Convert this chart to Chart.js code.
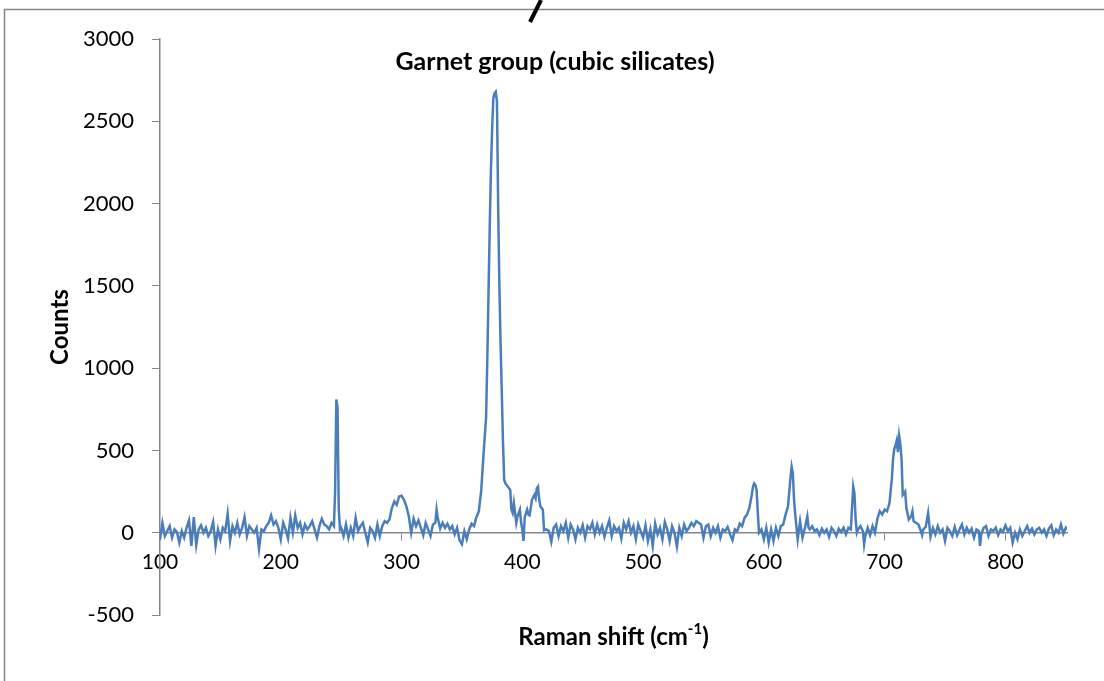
<!DOCTYPE html>
<html>
<head>
<meta charset="utf-8">
<title>Garnet group (cubic silicates)</title>
<script src="https://cdn.jsdelivr.net/npm/chart.js@4.4.1/dist/chart.umd.min.js"></script>
<style>
    html, body { margin: 0; padding: 0; background: #ffffff; }
    #wrap { position: relative; width: 1104px; height: 681px; }
</style>
</head>
<body>
<div id="wrap"><canvas id="ramanChart"></canvas></div>
<script>
/* ==========================================
   Raman spectrum - garnet
   ========================================== */

// Raman shift (cm-1)
const ramanShift = [
    100, 102, 104, 106, 108, 110, 112, 114, 116, 118,
    120, 122, 124, 126, 128, 130, 132, 134, 136, 138,
    140, 142, 144, 146, 148, 150, 152, 154, 156, 158,
    160, 162, 164, 166, 168, 170, 172, 174, 176, 178,
    180, 182, 184, 186, 188, 190, 192, 194, 196, 198,
    200, 202, 204, 206, 208, 210, 212, 214, 216, 218,
    220, 222, 224, 226, 228, 230, 232, 234, 236, 238,
    240, 242, 244, 245, 246, 247, 248, 249, 250, 252,
    254, 256, 258, 260, 262, 264, 266, 268, 270, 272,
    274, 276, 278, 280, 282, 284, 286, 288, 290, 292,
    294, 296, 298, 300, 302, 304, 306, 308, 310, 312,
    314, 316, 318, 320, 322, 324, 326, 328, 329, 330,
    332, 334, 336, 338, 340, 342, 344, 346, 348, 350,
    352, 354, 356, 358, 360, 362, 364, 366, 368, 370,
    371, 372, 373, 374, 375, 376, 377, 378, 379, 380,
    381, 382, 383, 384, 385, 386, 388, 390, 391, 392,
    393, 394, 395, 396, 398, 399, 400, 401, 402, 404,
    405, 406, 408, 410, 411, 412, 413, 414, 415, 416,
    417, 418, 420, 422, 424, 426, 428, 430, 432, 434,
    436, 438, 440, 442, 444, 446, 448, 450, 452, 454,
    456, 458, 460, 462, 464, 466, 468, 470, 472, 474,
    476, 478, 480, 482, 484, 486, 488, 490, 492, 494,
    496, 498, 500, 502, 504, 506, 508, 510, 512, 514,
    516, 518, 520, 522, 524, 526, 528, 530, 532, 534,
    536, 538, 540, 542, 544, 546, 548, 550, 552, 554,
    556, 558, 560, 562, 564, 566, 568, 570, 572, 574,
    576, 578, 580, 582, 584, 586, 588, 590, 591, 592,
    593, 594, 595, 596, 598, 600, 602, 604, 606, 608,
    610, 612, 614, 616, 618, 620, 622, 623, 624, 625,
    626, 628, 630, 632, 634, 636, 637, 638, 640, 642,
    644, 646, 648, 650, 652, 654, 656, 658, 660, 662,
    664, 666, 668, 670, 672, 673, 674, 675, 676, 677,
    678, 680, 682, 683, 684, 686, 688, 690, 692, 694,
    696, 698, 700, 702, 704, 706, 707, 708, 709, 710,
    711, 712, 713, 714, 715, 716, 717, 718, 720, 722,
    723, 724, 726, 728, 730, 731, 732, 734, 736, 738,
    740, 742, 744, 746, 748, 750, 752, 754, 756, 758,
    760, 762, 764, 766, 768, 770, 772, 774, 776, 778,
    779, 780, 782, 784, 786, 788, 790, 792, 794, 796,
    798, 800, 802, 804, 806, 808, 810, 812, 814, 816,
    818, 820, 822, 824, 826, 828, 830, 832, 834, 836,
    838, 840, 842, 844, 846, 848, 850, 851
];

// Counts (same order as ramanShift)
const counts = [
    -40, 60, -20, 10, 40, -30, 20, 5, -60, 10,
    -30, 30, 75, -80, 95, -75, 20, 45, 0, 30,
    -20, 10, 65, -80, 20, -40, 30, 10, 115, -50,
    40, 0, 60, -10, 30, 95, -20, 40, 20, 0,
    30, -100, 20, 10, 40, 60, 105, 50, 70, 30,
    -40, 60, 20, -35, 90, 0, 105, 30, 60, -10,
    50, 20, 40, 70, 20, -30, 40, 85, 50, 40,
    20, 60, 40, 250, 810, 760, 150, 20, 30, -20,
    50, -30, 30, -20, 90, 10, 40, 60, 0, -60,
    30, 10, -30, 50, -20, 40, 70, 60, 80, 150,
    190, 170, 220, 225, 200, 160, 100, 0, 85, 40,
    75, 30, -15, 60, 20, -20, 50, 60, 140, 90,
    25, 60, 30, 55, 20, 40, -10, 30, -45, -70,
    10, -40, 20, 55, 40, 95, 130, 260, 490, 700,
    1050, 1450, 1850, 2200, 2450, 2640, 2670, 2680, 2620, 1980,
    1500, 1150, 850, 550, 320, 300, 280, 260, 140, 120,
    180, 120, 60, 100, 140, 60, 20, -50, 95, 140,
    110, 105, 200, 230, 210, 270, 280, 200, 160, 150,
    140, 15, 20, 10, -55, 30, 50, -20, 40, 10,
    60, -30, 50, 20, -40, 30, 0, 45, -30, 40,
    20, 60, -10, 50, 0, 40, -25, 30, 75, -20,
    40, 10, 30, -35, 60, 20, 70, 0, 40, -40,
    50, 10, -30, 45, -50, 20, -80, 55, -10, 30,
    -40, 65, 20, -50, 40, 0, -85, 30, -20, 50,
    10, 30, 60, 40, 70, 60, 50, -30, 40, 50,
    -20, 30, 0, 40, -30, 20, 10, 35, -10, -45,
    20, 10, 55, 40, 90, 110, 150, 230, 280, 300,
    290, 260, 120, 0, 20, -40, 30, -60, 20, -50,
    30, -20, 40, 50, 110, 160, 330, 400, 360, 200,
    110, -40, 70, -30, 30, 100, 30, 20, 40, 10,
    20, -15, 25, 0, 20, -25, 30, 10, -20, 25,
    5, 30, -10, 30, 20, 150, 280, 240, 80, 0,
    20, 40, 10, -70, -20, 30, -15, 40, 0, 85,
    130, 110, 140, 130, 180, 330, 450, 510, 530, 560,
    490, 590, 540, 450, 230, 240, 250, 150, 80, 100,
    130, 70, 60, 50, 10, -15, 20, 35, 120, -25,
    30, -10, 40, 0, 20, -50, 30, 10, -20, 35,
    -15, 20, 50, -10, 30, 0, 25, -30, 20, 10,
    -80, -10, 30, 40, -20, 20, 10, 30, -15, 20,
    5, 45, 10, 30, -60, 0, -40, 20, -20, 10,
    40, 0, 25, -10, 20, 30, 0, 20, -20, 25,
    45, -15, 20, 0, 50, -5, 30, 20
];

// Tick labels
const xTicks = [100, 200, 300, 400, 500, 600, 700, 800];
const yTicks = [-500, 0, 500, 1000, 1500, 2000, 2500, 3000];

const chartTitle = "Garnet group (cubic silicates)";
const yTitle = "Counts";

const FONT = "Lato, Carlito, 'Liberation Sans', sans-serif";
const AXIS_GREY = "#868686";


/* ==========================================
   Frame, titles (plugin)
========================================== */

const excelDecor = {
    id: "excelDecor",
    afterDraw(chart) {
        const ctx = chart.ctx;
        const area = chart.chartArea;

        ctx.save();

        // outer frame (top + left only visible)
        ctx.strokeStyle = AXIS_GREY;
        ctx.lineWidth = 1.5;
        ctx.beginPath();
        ctx.moveTo(4.5, chart.height);
        ctx.lineTo(4.5, 9.5);
        ctx.lineTo(chart.width, 9.5);
        ctx.stroke();

        // black stroke above the chart
        ctx.strokeStyle = "#000000";
        ctx.lineWidth = 4;
        ctx.beginPath();
        ctx.moveTo(541, 0);
        ctx.lineTo(530, 22);
        ctx.stroke();

        ctx.fillStyle = "#000000";
        ctx.textBaseline = "middle";

        // chart title
        ctx.font = "bold 25px " + FONT;
        ctx.textAlign = "center";
        ctx.fillText(chartTitle, 555, 62);

        // y title
        ctx.font = "bold 24px " + FONT;
        ctx.save();
        ctx.translate(60, (area.top + area.bottom) / 2);
        ctx.rotate(-Math.PI / 2);
        ctx.fillText(yTitle, 0, 0);
        ctx.restore();

        // x title with superscript
        const part1 = "Raman shift (cm";
        const sup = "-1";
        const part2 = ")";
        ctx.font = "bold 24px " + FONT;
        const w1 = ctx.measureText(part1).width;
        const w3 = ctx.measureText(part2).width;
        ctx.font = "bold 15px " + FONT;
        const w2 = ctx.measureText(sup).width;
        let x = (area.left + area.right) / 2 - (w1 + w2 + w3) / 2;
        const y = 637;
        ctx.textAlign = "left";
        ctx.font = "bold 24px " + FONT;
        ctx.fillText(part1, x, y);
        x += w1;
        ctx.font = "bold 15px " + FONT;
        ctx.fillText(sup, x, y - 8);
        x += w2;
        ctx.font = "bold 24px " + FONT;
        ctx.fillText(part2, x, y);

        ctx.restore();
    }
};


/* ==========================================
   Chart
========================================== */

const points = ramanShift.map((v, i) => ({ x: v, y: counts[i] }));

new Chart(document.getElementById("ramanChart"), {

    type: "scatter",

    data: {
        datasets: [{
            data: points,
            showLine: true,
            borderColor: "#4a7ebb",
            borderWidth: 2.5,
            pointRadius: 0,
            pointHoverRadius: 0,
            fill: false,
            tension: 0
        }]
    },

    options: {
        responsive: true,
        maintainAspectRatio: false,
        animation: false,
        layout: {
            padding: { left: 0, right: 37, top: 39, bottom: 66 }
        },
        plugins: {
            legend: { display: false },
            tooltip: { enabled: false },
            title: { display: false }
        },
        scales: {
            x: {
                type: "linear",
                min: 100,
                max: 851,
                position: { y: 0 },
                afterFit: function (scale) {
                    scale.height = 0;
                },
                afterBuildTicks: function (scale) {
                    scale.ticks = xTicks.map(v => ({ value: v }));
                },
                grid: {
                    drawOnChartArea: false,
                    tickLength: 7,
                    color: AXIS_GREY
                },
                border: { color: AXIS_GREY, width: 1.5 },
                ticks: {
                    color: "#000000",
                    font: { family: FONT, size: 21 },
                    padding: 10,
                    maxRotation: 0,
                    autoSkip: false,
                    callback: v => String(v)
                }
            },
            y: {
                min: -500,
                max: 3000,
                position: "left",
                afterFit: function (scale) {
                    scale.width = 160;
                },
                afterBuildTicks: function (scale) {
                    scale.ticks = yTicks.map(v => ({ value: v }));
                },
                grid: {
                    drawOnChartArea: false,
                    tickLength: 8,
                    color: AXIS_GREY
                },
                border: { color: AXIS_GREY, width: 1.5 },
                ticks: {
                    color: "#000000",
                    font: { family: FONT, size: 22 },
                    padding: 18,
                    callback: v => String(v)
                }
            }
        }
    },

    plugins: [excelDecor]

});
</script>
</body>
</html>
